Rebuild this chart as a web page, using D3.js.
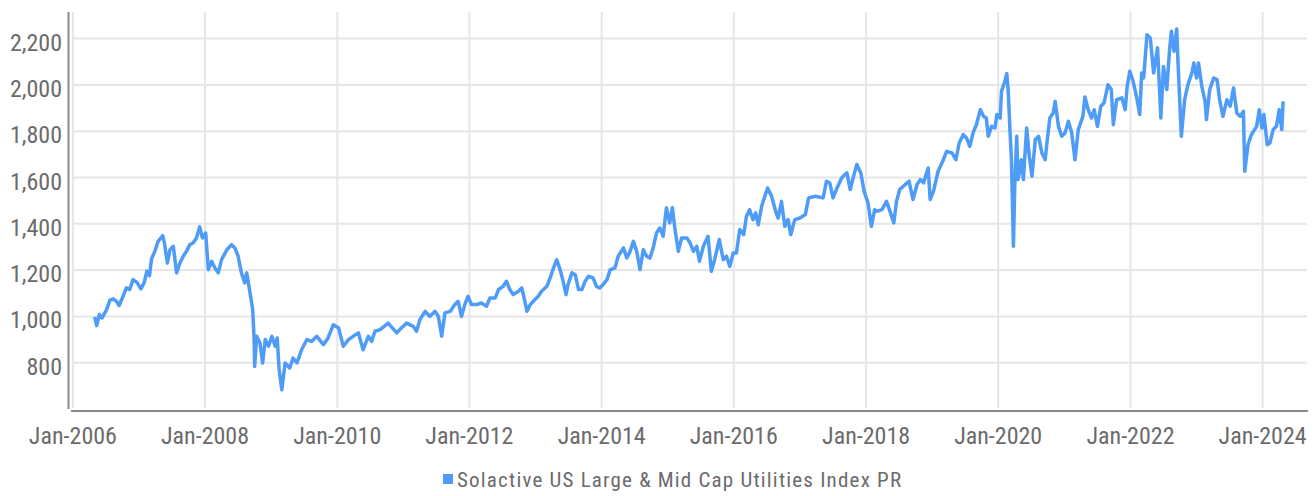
<!DOCTYPE html>
<html>
<head>
<meta charset="utf-8">
<script src="https://cdn.jsdelivr.net/npm/d3@7"></script>
<style>
  body { margin: 0; background: #fff; }
  svg text { font-family: "Liberation Sans Narrow", "Roboto Condensed", "DejaVu Sans Condensed", sans-serif; fill: #6b6b6b; }
</style>
</head>
<body>
<svg id="chart" width="1316" height="496"></svg>
<script>
// Index level, dates as decimal years
var dates = [
  2006.33, 2006.36, 2006.40, 2006.44, 2006.51, 2006.56, 2006.61, 2006.66, 2006.70, 2006.76,
  2006.81, 2006.86, 2006.91, 2006.97, 2007.03, 2007.08, 2007.12, 2007.16, 2007.19, 2007.24,
  2007.29, 2007.36, 2007.39, 2007.43, 2007.47, 2007.52, 2007.57, 2007.62, 2007.67, 2007.72,
  2007.77, 2007.82, 2007.87, 2007.92, 2007.96, 2008.01, 2008.05, 2008.10, 2008.15, 2008.20,
  2008.25, 2008.33, 2008.40, 2008.45, 2008.50, 2008.55, 2008.60, 2008.63, 2008.68, 2008.72,
  2008.74, 2008.75, 2008.78, 2008.83, 2008.87, 2008.91, 2008.96, 2009.01, 2009.06, 2009.09,
  2009.12, 2009.16, 2009.21, 2009.28, 2009.33, 2009.39, 2009.46, 2009.54, 2009.61, 2009.69,
  2009.79, 2009.86, 2009.94, 2010.02, 2010.09, 2010.17, 2010.24, 2010.32, 2010.39, 2010.47,
  2010.52, 2010.57, 2010.65, 2010.77, 2010.90, 2010.97, 2011.05, 2011.15, 2011.20, 2011.25,
  2011.33, 2011.40, 2011.48, 2011.53, 2011.58, 2011.63, 2011.71, 2011.78, 2011.83, 2011.88,
  2011.93, 2011.98, 2012.03, 2012.11, 2012.18, 2012.26, 2012.31, 2012.39, 2012.44, 2012.51,
  2012.56, 2012.61, 2012.66, 2012.74, 2012.79, 2012.82, 2012.87, 2012.92, 2012.99, 2013.04,
  2013.09, 2013.17, 2013.22, 2013.27, 2013.32, 2013.37, 2013.41, 2013.46, 2013.49, 2013.55,
  2013.60, 2013.65, 2013.70, 2013.75, 2013.80, 2013.87, 2013.92, 2013.97, 2014.02, 2014.08,
  2014.13, 2014.20, 2014.25, 2014.33, 2014.38, 2014.43, 2014.48, 2014.53, 2014.58, 2014.63,
  2014.68, 2014.73, 2014.78, 2014.83, 2014.88, 2014.93, 2014.98, 2015.03, 2015.07, 2015.11,
  2015.16, 2015.21, 2015.29, 2015.34, 2015.39, 2015.44, 2015.48, 2015.54, 2015.61, 2015.66,
  2015.71, 2015.78, 2015.84, 2015.89, 2015.94, 2015.99, 2016.04, 2016.09, 2016.15, 2016.19,
  2016.24, 2016.29, 2016.33, 2016.37, 2016.42, 2016.51, 2016.57, 2016.64, 2016.67, 2016.72,
  2016.77, 2016.82, 2016.86, 2016.92, 2017.00, 2017.08, 2017.13, 2017.23, 2017.35, 2017.40,
  2017.45, 2017.50, 2017.56, 2017.63, 2017.68, 2017.71, 2017.76, 2017.81, 2017.86, 2017.92,
  2017.97, 2018.03, 2018.08, 2018.13, 2018.16, 2018.24, 2018.31, 2018.37, 2018.42, 2018.46,
  2018.51, 2018.59, 2018.65, 2018.71, 2018.77, 2018.82, 2018.87, 2018.94, 2018.97, 2019.02,
  2019.09, 2019.17, 2019.22, 2019.30, 2019.36, 2019.41, 2019.47, 2019.52, 2019.57, 2019.62,
  2019.67, 2019.73, 2019.78, 2019.82, 2019.85, 2019.90, 2019.95, 2019.98, 2020.03, 2020.05,
  2020.10, 2020.13, 2020.15, 2020.18, 2020.20, 2020.23, 2020.25, 2020.28, 2020.30, 2020.35,
  2020.38, 2020.43, 2020.47, 2020.51, 2020.56, 2020.61, 2020.66, 2020.71, 2020.73, 2020.78,
  2020.83, 2020.86, 2020.91, 2020.96, 2021.01, 2021.06, 2021.11, 2021.16, 2021.21, 2021.28,
  2021.31, 2021.36, 2021.41, 2021.45, 2021.50, 2021.55, 2021.60, 2021.66, 2021.71, 2021.74,
  2021.79, 2021.87, 2021.92, 2021.95, 2021.99, 2022.04, 2022.09, 2022.14, 2022.17, 2022.20,
  2022.25, 2022.30, 2022.35, 2022.41, 2022.46, 2022.50, 2022.55, 2022.59, 2022.62, 2022.66,
  2022.70, 2022.72, 2022.77, 2022.82, 2022.87, 2022.93, 2022.96, 2023.00, 2023.03, 2023.08,
  2023.13, 2023.15, 2023.20, 2023.26, 2023.31, 2023.35, 2023.40, 2023.46, 2023.51, 2023.56,
  2023.61, 2023.66, 2023.71, 2023.73, 2023.78, 2023.83, 2023.91, 2023.95, 2023.99, 2024.02,
  2024.07, 2024.11, 2024.16, 2024.21, 2024.25, 2024.29, 2024.31
];
var values = [
  998, 960, 1008, 993, 1029, 1070, 1076, 1065, 1047, 1087,
  1123, 1116, 1159, 1147, 1119, 1147, 1195, 1176, 1248, 1281,
  1324, 1349, 1310, 1231, 1288, 1303, 1188, 1231, 1260, 1281,
  1310, 1317, 1339, 1387, 1339, 1360, 1202, 1238, 1209, 1188,
  1245, 1288, 1310, 1296, 1260, 1188, 1145, 1188, 1101, 1029,
  914, 784, 914, 885, 799, 900, 871, 914, 871, 907,
  770, 683, 799, 777, 820, 799, 856, 900, 892, 914,
  878, 907, 964, 950, 871, 900, 914, 929, 856, 914,
  892, 936, 943, 971, 929, 950, 971, 957, 936, 986,
  1022, 1000, 1022, 1000, 914, 1015, 1022, 1051, 1065, 1000,
  1051, 1087, 1051, 1051, 1058, 1044, 1080, 1080, 1116, 1130,
  1152, 1116, 1094, 1109, 1123, 1087, 1022, 1051, 1073, 1087,
  1109, 1130, 1166, 1209, 1245, 1202, 1159, 1094, 1137, 1188,
  1180, 1116, 1116, 1152, 1173, 1166, 1130, 1123, 1137, 1159,
  1202, 1209, 1260, 1296, 1252, 1281, 1324, 1281, 1202, 1288,
  1260, 1252, 1296, 1360, 1382, 1346, 1469, 1404, 1469, 1375,
  1281, 1339, 1339, 1317, 1281, 1303, 1238, 1303, 1346, 1195,
  1245, 1332, 1245, 1260, 1216, 1274, 1274, 1375, 1353, 1432,
  1461, 1418, 1447, 1396, 1476, 1555, 1519, 1447, 1425, 1497,
  1389, 1418, 1353, 1418, 1425, 1440, 1512, 1519, 1512, 1584,
  1577, 1512, 1555, 1598, 1613, 1620, 1548, 1605, 1656, 1620,
  1540, 1490, 1389, 1461, 1454, 1461, 1497, 1447, 1404, 1497,
  1548, 1569, 1584, 1505, 1569, 1591, 1577, 1641, 1505, 1540,
  1627, 1677, 1713, 1706, 1677, 1749, 1785, 1771, 1735, 1793,
  1828, 1893, 1864, 1857, 1778, 1821, 1814, 1872, 1857, 1972,
  2016, 2049, 1980, 1793, 1677, 1303, 1562, 1778, 1591, 1677,
  1591, 1814, 1692, 1605, 1764, 1778, 1706, 1677, 1735, 1857,
  1879, 1929, 1821, 1778, 1793, 1843, 1793, 1677, 1807, 1864,
  1948, 1893, 1857, 1893, 1821, 1908, 1922, 2001, 1980, 1828,
  1936, 1944, 1893, 1994, 2059, 2016, 1951, 1872, 2052, 2030,
  2217, 2203, 2052, 2160, 1857, 2080, 1980, 2145, 2232, 2145,
  2242, 2095, 1778, 1936, 2001, 2052, 2095, 2030, 2095, 1994,
  1929, 1850, 1980, 2030, 2023, 1936, 1864, 1936, 1908, 1987,
  1879, 1864, 1886, 1627, 1742, 1785, 1821, 1893, 1814, 1872,
  1742, 1749, 1807, 1821, 1893, 1807, 1929
];
var yTicks = [800, 1000, 1200, 1400, 1600, 1800, 2000, 2200];
var seriesName = "Solactive US Large & Mid Cap Utilities Index PR";

function toDate(t) {
  var yr = Math.floor(t);
  var a = new Date(yr, 0, 1).getTime(), b = new Date(yr + 1, 0, 1).getTime();
  return new Date(a + (t - yr) * (b - a));
}

var data = dates.map(function(t, i) { return { date: toDate(t), value: values[i] }; });

var svg = d3.select("#chart");
var plotLeft = 72.9, plotRight = 1308, plotTop = 12, plotBottom = 409;

var x = d3.scaleTime()
  .domain([new Date(2006, 0, 1), new Date(2024, 8, 8)])
  .range([plotLeft, plotRight]);
var y = d3.scaleLinear()
  .domain([600, 2315])
  .range([plotBottom, plotTop]);

// horizontal grid
svg.append("g")
  .selectAll("line")
  .data(yTicks)
  .enter().append("line")
  .attr("x1", plotLeft).attr("x2", plotRight - 1)
  .attr("y1", function(d) { return y(d); })
  .attr("y2", function(d) { return y(d); })
  .style("stroke", "#e6e6e6")
  .style("stroke-width", 2);

// vertical grid
var xTicks = x.ticks(d3.timeYear.every(2));
svg.append("g")
  .selectAll("line")
  .data(xTicks)
  .enter().append("line")
  .attr("x1", function(d) { return x(d); })
  .attr("x2", function(d) { return x(d); })
  .attr("y1", plotTop).attr("y2", plotBottom - 1)
  .style("stroke", "#e6e6e6")
  .style("stroke-width", 2);

// axes lines
svg.append("line")
  .attr("x1", 68.5).attr("x2", 68.5).attr("y1", plotTop).attr("y2", plotBottom)
  .style("stroke", "#8a8a8a").style("stroke-width", 2);
svg.append("line")
  .attr("x1", 71).attr("x2", plotRight).attr("y1", 411).attr("y2", 411)
  .style("stroke", "#8a8a8a").style("stroke-width", 2);

// y labels
svg.append("g")
  .selectAll("text")
  .data(yTicks)
  .enter().append("text")
  .attr("x", 62)
  .attr("y", function(d) { return y(d) + 12; })
  .attr("text-anchor", "end")
  .style("font-size", "24px")
  .text(function(d) { return d3.format(",")(d); });

// x labels
var fmt = d3.timeFormat("%b-%Y");
svg.append("g")
  .selectAll("text")
  .data(xTicks)
  .enter().append("text")
  .attr("x", function(d) { return x(d); })
  .attr("y", 444)
  .attr("text-anchor", "middle")
  .style("font-size", "24px")
  .text(function(d) { return fmt(d); });

// the series
var line = d3.line()
  .x(function(d) { return x(d.date); })
  .y(function(d) { return y(d.value); });

svg.append("path")
  .datum(data)
  .attr("d", line)
  .style("fill", "none")
  .style("stroke", "#4e9bf8")
  .style("stroke-width", 3.5)
  .style("stroke-linejoin", "round");

// legend
var legend = svg.append("g").attr("transform", "translate(443,474)");
legend.append("rect")
  .attr("width", 10).attr("height", 10)
  .style("fill", "#4e9bf8");
legend.append("text")
  .attr("x", 14).attr("y", 13)
  .style("font-size", "21px")
  .style("letter-spacing", "1.2px")
  .text(seriesName);
</script>
</body>
</html>
